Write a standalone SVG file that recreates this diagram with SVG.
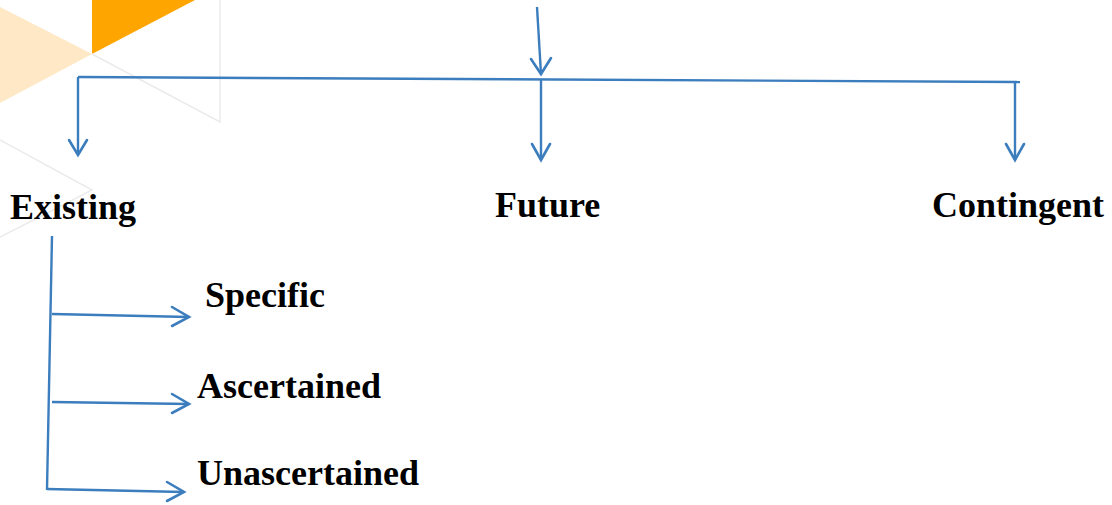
<svg xmlns="http://www.w3.org/2000/svg" width="1112" height="505" viewBox="0 0 1112 505">
<style>
.bg{fill:#ffffff}
.deco{fill:none;stroke:#ebebeb;stroke-width:1.5}
.ln{fill:none;stroke:#3b7dbd;stroke-width:2.4}
.hd{fill:none;stroke:#3b7dbd;stroke-width:2.6;stroke-linecap:round;stroke-linejoin:miter}
.lbl{font-family:"Liberation Serif","Times New Roman",serif;font-weight:bold;font-size:36px;fill:#000}
</style>
<rect class="bg" x="0" y="0" width="1112" height="505"/>
<g id="decoration">
  <polygon points="0,7 92,54 0,103" fill="#fee8c5"/>
  <polygon points="92,0 195,0 92,54" fill="#ffa500"/>
  <polyline class="deco" points="92,54 220,122 220,0"/>
  <polyline class="deco" points="0,140 92,190 0,237"/>
</g>
<g id="connectors">
  <line class="ln" x1="537" y1="7" x2="541" y2="74"/>
  <polyline class="hd" points="531,59 541,74 551,58"/>
  <line class="ln" x1="78" y1="77" x2="1020" y2="82"/>
  <line class="ln" x1="78" y1="77" x2="78" y2="155"/>
  <polyline class="hd" points="69,140 78,155 87,140"/>
  <line class="ln" x1="541" y1="80" x2="541" y2="160"/>
  <polyline class="hd" points="532,144 541,160 550,144"/>
  <line class="ln" x1="1015" y1="82" x2="1015" y2="160"/>
  <polyline class="hd" points="1006,144 1015,160 1024,144"/>
  <line class="ln" x1="52" y1="236" x2="47" y2="490"/>
  <line class="ln" x1="52" y1="314" x2="189" y2="317"/>
  <polyline class="hd" points="172,307 189,317 172,326"/>
  <line class="ln" x1="52" y1="402" x2="189" y2="404"/>
  <polyline class="hd" points="172,394 189,404 172,413"/>
  <line class="ln" x1="47" y1="489" x2="184" y2="492"/>
  <polyline class="hd" points="167,482 184,492 167,501"/>
</g>
<g id="node-existing"><text class="lbl" x="10" y="219">Existing</text></g>
<g id="node-future"><text class="lbl" x="495" y="217">Future</text></g>
<g id="node-contingent"><text class="lbl" x="932" y="217">Contingent</text></g>
<g id="node-specific"><text class="lbl" x="205" y="307">Specific</text></g>
<g id="node-ascertained"><text class="lbl" x="197" y="398">Ascertained</text></g>
<g id="node-unascertained"><text class="lbl" x="197" y="485">Unascertained</text></g>
</svg>
